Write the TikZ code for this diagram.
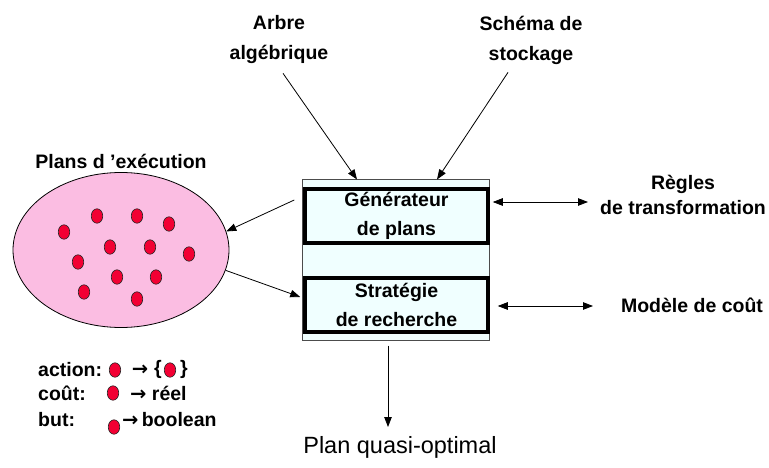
\documentclass[tikz,border=0pt]{standalone}
\usepackage{fontspec}
\setmainfont{Liberation Sans}
\newfontfamily\symb{DejaVu Sans}
\usetikzlibrary{positioning,arrows.meta,shapes.geometric}
\definecolor{azure}{HTML}{F0FFFF}
\definecolor{planpink}{HTML}{FBBDE2}
\definecolor{dotred}{HTML}{F20033}

\begin{document}
\begin{tikzpicture}[x=1pt, y=-1pt,
  lbl/.style={font=\fontsize{19.5}{30}\selectfont\bfseries, align=center, inner sep=0pt},
  box/.style={rectangle, draw=black, line width=3.5pt, fill=azure, minimum width=183pt, minimum height=54pt, font=\fontsize{19.5}{29}\selectfont\bfseries, align=center, anchor=center},
  dot/.style={ellipse, draw=black!85, line width=0.6pt, fill=dotred, minimum width=11.5pt, minimum height=14.5pt, inner sep=0pt},
  arr/.style={-{Triangle[length=10pt,width=7.5pt]}, line width=0.8pt},
  darr/.style={{Triangle[length=10pt,width=7.5pt]}-{Triangle[length=10pt,width=7.5pt]}, line width=0.8pt}
]
\useasboundingbox (0,0) rectangle (769,468);
% Optimiseur
\node[rectangle, draw=gray!60!black, line width=1pt, fill=azure, minimum width=187pt, minimum height=160pt, anchor=center] (moteur) at (395.5,260) {};
\node[box] (gen) at (396.5,216) {Générateur\\de plans};
\node[box] (strat) at (396.5,305) {Stratégie\\de recherche};
% Entrees
\node[lbl] (alg) at (279,40) {Arbre\\algébrique};
\node[lbl] (sto) at (531,40) {Schéma de\\stockage};
\coordinate (in1) at ([xshift=-38.5pt]moteur.north);
\coordinate (in2) at ([xshift=41.5pt]moteur.north);
\draw[arr] ([xshift=4pt,yshift=-9pt]alg.south) -- (in1);
\draw[arr] ([xshift=-23pt,yshift=-8pt]sto.south) -- (in2);
% Espace des plans
\node[lbl] (titre) at (121,161) {Plans d 'exécution};
\node[ellipse, draw=black, line width=0.8pt, fill=planpink, minimum width=216pt, minimum height=155pt, inner sep=0pt] (plans) at (121,250) {};
\foreach \x/\y [count=\i] in {97/216,137/216,169/224,64/232,110/247,150/247,189/254,78/262,117/277,156/277,84/292,137/299}
  \node[dot] (p\i) at (\x,\y) {};
\draw[arr] ([xshift=-9pt,yshift=16pt]gen.west) -- (plans.10);
\draw[arr] (plans.-11) -- ([xshift=-3pt,yshift=8pt]strat.west);
% Connaissances
\node[lbl, align=center, font=\fontsize{19.5}{25}\selectfont\bfseries] (regles) at (683,195) {Règles\\de transformation};
\node[lbl] (cout) at (692,305) {Modèle de coût};
\coordinate (r1) at (588,202);
\coordinate (r2) at (593,306);
\draw[darr] ([xshift=3pt,yshift=14pt]gen.east) -- (r1);
\draw[darr] ([xshift=8pt,yshift=-1pt]strat.east) -- (r2);
% Sortie
\node[font=\fontsize{23.5}{28}\selectfont, inner sep=0pt] (plan) at (400,447) {Plan quasi-optimal};
\coordinate (out) at (388,427);
\draw[arr] ([xshift=-7.5pt,yshift=-5pt]moteur.south) -- (out);
% Legende
\node[lbl, anchor=west] (legaction) at (38,370) {action:};
\node[dot] (l1) at (115,370) {};
\node[lbl] (fl1) at (140,370) {\symb →};
\node[lbl] (acc1) at (158,369) {\{};
\node[dot] (l2) at (170,370) {};
\node[lbl] (acc2) at (184,369) {\}};
\node[lbl, anchor=west] (legcout) at (38,393) {coût:};
\node[dot] (l3) at (113,393) {};
\node[lbl, anchor=west] (reel) at (130,393) {{\symb →} réel};
\node[lbl, anchor=west] (legbut) at (38,420) {but:};
\node[dot] (l4) at (114,427) {};
\node[lbl, anchor=west] (bool) at (122,420) {{\symb →}\,boolean};
\end{tikzpicture}
\end{document}
